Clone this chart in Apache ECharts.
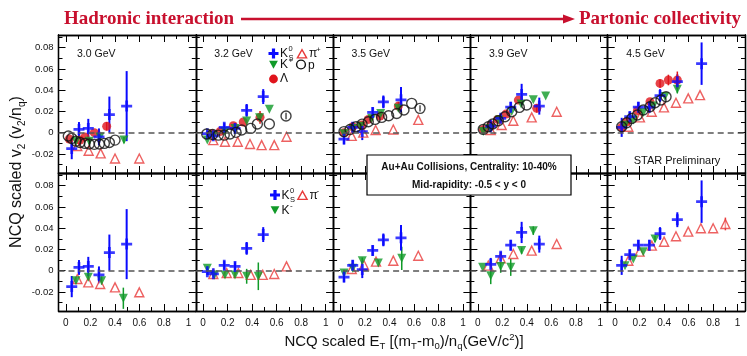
<!DOCTYPE html>
<html>
<head>
<meta charset="utf-8">
<script src="https://cdn.jsdelivr.net/npm/echarts@6/dist/echarts.min.js"></script>
<style>
html, body { margin: 0; padding: 0; background: #fff; }
#chart { width: 747px; height: 356px; }
</style>
</head>
<body>
<div id="chart"></div>
<script>
// collision energies, one column each
var energies = ['3.0 GeV', '3.2 GeV', '3.5 GeV', '3.9 GeV', '4.5 GeV'];

// points are [ET/nq, v2/nq, error], one list per energy
var kShort = [
    [[0.048, -0.015, 0.010], [0.107, 0.003, 0.007], [0.183, 0.004, 0.009], [0.270, -0.004, 0.008], [0.355, 0.017, 0.017], [0.496, 0.025, 0.033]],
    [[0.034, -0.001, 0.003], [0.083, -0.003, 0.003], [0.172, 0.005, 0.004], [0.260, 0.004, 0.004], [0.355, 0.021, 0.006], [0.490, 0.034, 0.007]],
    [[0.029, -0.006, 0.005], [0.100, 0.005, 0.005], [0.178, 0.001, 0.008], [0.263, 0.019, 0.005], [0.350, 0.029, 0.006], [0.494, 0.031, 0.012]],
    [[0.106, 0.006, 0.006], [0.187, 0.0135, 0.004], [0.269, 0.024, 0.005], [0.358, 0.036, 0.010], [0.502, 0.025, 0.008]],
    [[0.054, 0.005, 0.009], [0.120, 0.015, 0.005], [0.190, 0.024, 0.005], [0.280, 0.024, 0.005], [0.367, 0.035, 0.006], [0.508, 0.048, 0.007], [0.706, 0.065, 0.020]]
];
var kPlus = [
    [[0.083, -0.008, 0.003], [0.191, -0.008, 0.003], [0.278, -0.004, 0.003], [0.474, -0.007, 0.003]],
    [[0.034, -0.007], [0.083, -0.003], [0.178, 0.001], [0.260, 0.004], [0.355, 0.011], [0.460, 0.014], [0.540, 0.022]],
    [[0.029, -0.001], [0.100, 0.004], [0.165, 0.006], [0.255, 0.0135], [0.328, 0.018], [0.472, 0.023]],
    [[0.045, 0.001], [0.100, 0.004], [0.175, 0.012], [0.277, 0.020], [0.354, 0.027], [0.453, 0.031], [0.554, 0.0345]],
    [[0.081, 0.007], [0.149, 0.012], [0.230, 0.019], [0.312, 0.025], [0.407, 0.034], [0.508, 0.041, 0.004]]
];
var lambda = [
    [[0.028, -0.006], [0.115, -0.007], [0.156, -0.004], [0.232, 0.000], [0.333, 0.006, 0.004]],
    [[0.070, -0.001], [0.137, 0.001], [0.246, 0.0065], [0.327, 0.010], [0.464, 0.0145, 0.006]],
    [[0.029, 0.000], [0.100, 0.0056], [0.173, 0.0072], [0.227, 0.0125], [0.323, 0.0156], [0.472, 0.025, 0.004]],
    [[0.045, 0.003], [0.106, 0.007], [0.163, 0.0125], [0.230, 0.0175], [0.331, 0.0307], [0.481, 0.0229, 0.004]],
    [[0.054, 0.005], [0.095, 0.0103], [0.182, 0.0207], [0.285, 0.0292], [0.367, 0.0464, 0.004], [0.435, 0.0496, 0.005], [0.508, 0.0496, 0.008]]
];
var piPlus = [
    [[0.093, -0.0126], [0.186, -0.017], [0.284, -0.0195], [0.401, -0.0243], [0.599, -0.0243]],
    [[0.083, -0.007], [0.178, -0.0086], [0.282, -0.0086], [0.382, -0.0107], [0.477, -0.0117], [0.580, -0.0117], [0.680, -0.0038]],
    [[0.092, -0.003], [0.186, 0.000], [0.287, 0.0025], [0.431, 0.003], [0.635, 0.012]],
    [[0.106, 0.0025], [0.195, 0.0072], [0.290, 0.0112], [0.440, 0.0144], [0.644, 0.0197]],
    [[0.108, 0.0056], [0.203, 0.0144], [0.299, 0.0197], [0.399, 0.0238], [0.497, 0.0282], [0.597, 0.0323], [0.693, 0.0354]]
];
var proton = [
    [[0.020, -0.0032], [0.048, -0.0054], [0.083, -0.008], [0.115, -0.0092], [0.156, -0.0101], [0.191, -0.0107], [0.232, -0.011], [0.273, -0.0107], [0.314, -0.0101], [0.355, -0.0092], [0.401, -0.007]],
    [[0.029, -0.0013], [0.077, -0.0017], [0.124, -0.0023], [0.172, -0.0023], [0.219, -0.0013], [0.268, 0.0003], [0.314, 0.0025], [0.388, 0.004], [0.442, 0.0081], [0.540, 0.0081], [0.676, 0.0157, 0.003]],
    [[0.029, 0.001], [0.078, 0.003], [0.127, 0.0056], [0.176, 0.008], [0.227, 0.0103], [0.282, 0.0125], [0.336, 0.0144], [0.393, 0.016], [0.459, 0.018], [0.518, 0.0213], [0.581, 0.0276], [0.649, 0.0229, 0.003]],
    [[0.045, 0.0031], [0.086, 0.0056], [0.122, 0.0081], [0.168, 0.0112], [0.222, 0.015], [0.277, 0.0197], [0.339, 0.0238], [0.399, 0.026]],
    [[0.054, 0.0056], [0.095, 0.0094], [0.136, 0.0134], [0.182, 0.0166], [0.230, 0.0213], [0.285, 0.0244], [0.326, 0.0282], [0.375, 0.0307], [0.416, 0.0339]]
];
var kMinus = [
    [[0.083, -0.0094, 0.003], [0.183, -0.0063, 0.003], [0.292, -0.0094, 0.004], [0.469, -0.026, 0.010]],
    [[0.034, 0.0022, 0.002], [0.091, -0.004, 0.003], [0.178, -0.004, 0.003], [0.260, -0.004, 0.003], [0.355, -0.0053, 0.007], [0.450, -0.0053, 0.013]],
    [[0.029, -0.0022, 0.003], [0.100, 0.0022, 0.003], [0.178, 0.0094, 0.003], [0.309, 0.0072, 0.003], [0.500, 0.0116, 0.011]],
    [[0.040, 0.0031], [0.106, -0.0047, 0.008], [0.187, 0.004, 0.006], [0.269, 0.0031, 0.008], [0.358, 0.0189, 0.003], [0.453, 0.0377, 0.004]],
    [[0.081, 0.0047], [0.149, 0.011], [0.230, 0.0179], [0.326, 0.0298, 0.003]]
];
var piMinus = [
    [[0.094, -0.0079], [0.183, -0.011], [0.280, -0.0126], [0.401, -0.0157], [0.599, -0.0204]],
    [[0.083, -0.0031], [0.192, -0.0022], [0.287, -0.0022], [0.388, -0.004], [0.486, -0.004], [0.580, -0.0031], [0.680, 0.004]],
    [[0.092, 0.0016], [0.192, 0.0053], [0.290, 0.0085], [0.431, 0.0094], [0.635, 0.0141]],
    [[0.086, 0.0047], [0.187, 0.0116], [0.290, 0.0157], [0.440, 0.0189], [0.644, 0.0251]],
    [[0.108, 0.0094], [0.200, 0.0179], [0.300, 0.0236], [0.400, 0.0273], [0.497, 0.0324], [0.597, 0.0368], [0.700, 0.040], [0.800, 0.040], [0.900, 0.044, 0.006]]
];

// tick values
var xMajor = [0, 0.2, 0.4, 0.6, 0.8, 1];
var xMinor = [0.1, 0.3, 0.5, 0.7, 0.9];
var yMajor = [-0.02, 0, 0.02, 0.04, 0.06, 0.08];
var yMinor = [-0.03, -0.01, 0.01, 0.03, 0.05, 0.07, 0.09];

var SANS = "'Liberation Sans', Arial, Helvetica, sans-serif";
var SERIF = "'Liberation Serif', 'Times New Roman', serif";
var BLUE = '#0a0aff', GREEN = '#109a28', RED = '#e0141c', PIRED = '#e83a3a', HEAD = '#c8102e';
var CROSS = 'path://M3,0H5V3H8V5H5V8H3V5H0V3H3Z';

var panelLeft = 58.5, panelTop = 35, panelW = 137.3, panelH = 138;
var xMin = -0.06, xMax = 1.06, yMin = -0.038, yMax = 0.092;

function fmtX(v) {
    if (Math.abs(v) < 1e-6) return '0';
    if (Math.abs(v - 1) < 1e-6) return '1';
    return v.toFixed(1);
}
function fmtY(v) {
    if (Math.abs(v) < 1e-6) return '0';
    return v.toFixed(2);
}

function makeAxis(g, pos, ticks, len, labels, isX) {
    return {
        type: 'value', gridIndex: g, position: pos,
        min: isX ? xMin : yMin, max: isX ? xMax : yMax,
        axisLine: {show: true, onZero: false, lineStyle: {color: '#000', width: 1.3}},
        axisTick: {show: true, inside: true, length: len, customValues: ticks, lineStyle: {color: '#000', width: 1}},
        axisLabel: {show: labels, customValues: ticks, formatter: isX ? fmtX : fmtY,
            color: '#111', fontSize: isX ? 10 : 9.5, fontFamily: SANS, margin: isX ? 7 : 5},
        splitLine: {show: false}
    };
}

function errBars(pts, color, xi, yi, w) {
    return {
        type: 'custom', xAxisIndex: xi, yAxisIndex: yi, silent: true, animation: false, z: 2,
        data: pts.filter(function (p) { return p[2]; }),
        renderItem: function (params, api) {
            var x = api.value(0), y = api.value(1), e = api.value(2);
            var a = api.coord([x, y - e]), b = api.coord([x, y + e]);
            return {type: 'line', shape: {x1: a[0], y1: a[1], x2: b[0], y2: b[1]},
                style: {stroke: color, lineWidth: w}};
        }
    };
}

function points(pts, xi, yi, sym, size, rot, style, extra) {
    var s = {
        type: 'scatter', xAxisIndex: xi, yAxisIndex: yi, symbol: sym, symbolSize: size,
        symbolRotate: rot, itemStyle: style, z: 3, animation: false, silent: true,
        data: pts.map(function (p) { return [p[0], p[1]]; })
    };
    if (extra) s.markLine = extra;
    return s;
}

var grids = [], xAxes = [], yAxes = [], series = [];
var zeroLine = {
    silent: true, symbol: 'none', animation: false, label: {show: false},
    lineStyle: {color: '#555', type: [6, 4], width: 1.5},
    data: [{yAxis: 0}]
};

for (var r = 0; r < 2; r++) {
    for (var c = 0; c < 5; c++) {
        var g = grids.length;
        grids.push({left: panelLeft + c * panelW, top: panelTop + r * panelH, width: panelW, height: panelH});
        var xi = xAxes.length, yi = yAxes.length;
        xAxes.push(makeAxis(g, 'bottom', xMajor, 7, r === 1, true));
        xAxes.push(makeAxis(g, 'bottom', xMinor, 4, false, true));
        xAxes.push(makeAxis(g, 'top', xMajor, 7, false, true));
        xAxes.push(makeAxis(g, 'top', xMinor, 4, false, true));
        yAxes.push(makeAxis(g, 'left', yMajor, 7, c === 0, false));
        yAxes.push(makeAxis(g, 'left', yMinor, 4, false, false));
        yAxes.push(makeAxis(g, 'right', yMajor, 7, false, false));
        yAxes.push(makeAxis(g, 'right', yMinor, 4, false, false));

        var pis = r === 0 ? piPlus[c] : piMinus[c];
        var kch = r === 0 ? kPlus[c] : kMinus[c];

        series.push(errBars(pis, PIRED, xi, yi, 1.5));
        series.push(errBars(kch, GREEN, xi, yi, 1.5));
        series.push(errBars(kShort[c], BLUE, xi, yi, 2));
        if (r === 0) {
            series.push(errBars(lambda[c], RED, xi, yi, 1.5));
            series.push(errBars(proton[c], '#222', xi, yi, 1.2));
        }
        series.push(points(pis, xi, yi, 'triangle', 9, 0,
            {color: 'rgba(255,255,255,0.6)', borderColor: PIRED, borderWidth: 1.4}, zeroLine));
        if (r === 0) {
            series.push(points(lambda[c], xi, yi, 'circle', 9, 0, {color: RED}));
        }
        series.push(points(kch, xi, yi, 'triangle', 9, 180, {color: GREEN}));
        series.push(points(kShort[c], xi, yi, CROSS, 11, 0, {color: BLUE}));
        if (r === 0) {
            series.push(points(proton[c], xi, yi, 'circle', 10, 0,
                {color: 'rgba(255,255,255,0)', borderColor: '#111', borderWidth: 1.4}));
        }
    }
}

function crossPts(cx, cy) {
    var a = 5, b = 1.6;
    return [[cx - b, cy - a], [cx + b, cy - a], [cx + b, cy - b], [cx + a, cy - b], [cx + a, cy + b], [cx + b, cy + b],
        [cx + b, cy + a], [cx - b, cy + a], [cx - b, cy + b], [cx - a, cy + b], [cx - a, cy - b], [cx - b, cy - b]];
}
function triUp(cx, cy, s) { return [[cx - s, cy + s * 0.85], [cx + s, cy + s * 0.85], [cx, cy - s * 0.95]]; }
function triDown(cx, cy, s) { return [[cx - s, cy - s * 0.85], [cx + s, cy - s * 0.85], [cx, cy + s * 0.95]]; }
function txt(x, y, s, size, extra) {
    var st = {text: s, x: 0, y: 0, fill: '#111', fontSize: size, fontFamily: SANS, align: 'left', verticalAlign: 'middle'};
    for (var k in extra || {}) st[k] = extra[k];
    return {type: 'text', x: x, y: y, z: 50, style: st};
}

var graphics = [];
// header
graphics.push(txt(64, 19, 'Hadronic interaction', 19, {fill: HEAD, fontFamily: SERIF, fontWeight: 'bold'}));
graphics.push({type: 'line', z: 50, shape: {x1: 241, y1: 19, x2: 566, y2: 19}, style: {stroke: HEAD, lineWidth: 2.6}});
graphics.push({type: 'polygon', z: 50, shape: {points: [[563, 14.5], [575, 19], [563, 23.5]]}, style: {fill: HEAD}});
graphics.push(txt(579, 19, 'Partonic collectivity', 19, {fill: HEAD, fontFamily: SERIF, fontWeight: 'bold'}));

// energy labels
energies.forEach(function (e, i) {
    graphics.push(txt(panelLeft + i * panelW + 18.5, 54, e, 10.5));
});

// legends
graphics.push({type: 'polygon', z: 50, shape: {points: crossPts(273.5, 53.5)}, style: {fill: BLUE}});
graphics.push(txt(280, 54, 'K', 12));
graphics.push(txt(288.5, 49, '0', 7.5));
graphics.push(txt(288.5, 58, 'S', 7.5));
graphics.push({type: 'polygon', z: 50, shape: {points: triUp(302, 54, 4.6)}, style: {fill: '#fff', stroke: PIRED, lineWidth: 1.4}});
graphics.push(txt(309, 54, 'π', 12));
graphics.push(txt(316, 49.5, '+', 8));
graphics.push({type: 'polygon', z: 50, shape: {points: triDown(273.5, 64.5, 4.4)}, style: {fill: GREEN}});
graphics.push(txt(280, 65, 'K', 12));
graphics.push(txt(288.5, 60.5, '+', 8));
graphics.push({type: 'circle', z: 50, shape: {cx: 301, cy: 64.5, r: 4.4}, style: {fill: 'none', stroke: '#111', lineWidth: 1.4}});
graphics.push(txt(308, 65.5, 'p', 12));
graphics.push({type: 'circle', z: 50, shape: {cx: 273.5, cy: 79, r: 4.4}, style: {fill: RED}});
graphics.push(txt(280, 79, 'Λ', 12));

graphics.push({type: 'polygon', z: 50, shape: {points: crossPts(275, 195)}, style: {fill: BLUE}});
graphics.push(txt(281.5, 195.5, 'K', 12));
graphics.push(txt(290, 190.5, '0', 7.5));
graphics.push(txt(290, 199.5, 'S', 7.5));
graphics.push({type: 'polygon', z: 50, shape: {points: triUp(302.5, 195.5, 4.6)}, style: {fill: '#fff', stroke: PIRED, lineWidth: 1.4}});
graphics.push(txt(309.5, 195.5, 'π', 12));
graphics.push(txt(316.5, 191, '-', 8));
graphics.push({type: 'polygon', z: 50, shape: {points: triDown(275, 210, 4.4)}, style: {fill: GREEN}});
graphics.push(txt(281.5, 210.5, 'K', 12));
graphics.push(txt(290, 206, '-', 8));

// info box
graphics.push({type: 'rect', z: 60, shape: {x: 367, y: 155, width: 204, height: 40},
    style: {fill: '#fff', stroke: '#000', lineWidth: 1.2}});
graphics.push({type: 'text', z: 61, x: 469, y: 167, style: {text: 'Au+Au Collisions, Centrality: 10-40%',
    fill: '#111', fontSize: 10, fontWeight: 'bold', fontFamily: SANS, align: 'center', verticalAlign: 'middle'}});
graphics.push({type: 'text', z: 61, x: 469, y: 185.5, style: {text: 'Mid-rapidity: -0.5 < y < 0',
    fill: '#111', fontSize: 10, fontWeight: 'bold', fontFamily: SANS, align: 'center', verticalAlign: 'middle'}});
graphics.push({type: 'text', z: 50, x: 677, y: 161, style: {text: 'STAR Preliminary',
    fill: '#111', fontSize: 11, fontFamily: SANS, align: 'center', verticalAlign: 'middle'}});

// axis titles
var richT = {
    m: {fontSize: 16, fontFamily: SANS, fill: '#111', lineHeight: 20},
    s: {fontSize: 10, fontFamily: SANS, fill: '#111', verticalAlign: 'bottom', lineHeight: 10},
    u: {fontSize: 10, fontFamily: SANS, fill: '#111', verticalAlign: 'top', lineHeight: 10}
};
graphics.push({type: 'text', z: 50, x: 17, y: 172, rotation: Math.PI / 2, style: {
    text: '{m|NCQ scaled v}{s|2}{m| (v}{s|2}{m|/n}{s|q}{m|)}', rich: richT, align: 'center', verticalAlign: 'middle'}});
var richX = {
    m: {fontSize: 15, fontFamily: SANS, fill: '#111', lineHeight: 19},
    s: {fontSize: 9.5, fontFamily: SANS, fill: '#111', verticalAlign: 'bottom', lineHeight: 10},
    u: {fontSize: 9.5, fontFamily: SANS, fill: '#111', verticalAlign: 'top', lineHeight: 10}
};
graphics.push({type: 'text', z: 50, x: 404, y: 342, style: {
    text: '{m|NCQ scaled E}{s|T}{m| [(m}{s|T}{m|-m}{s|0}{m|)/n}{s|q}{m|(GeV/c}{u|2}{m|)]}',
    rich: richX, align: 'center', verticalAlign: 'middle'}});

var chart = echarts.init(document.getElementById('chart'));
chart.setOption({
    animation: false,
    backgroundColor: '#fff',
    grid: grids,
    xAxis: xAxes,
    yAxis: yAxes,
    series: series,
    graphic: graphics
});
</script>
</body>
</html>
